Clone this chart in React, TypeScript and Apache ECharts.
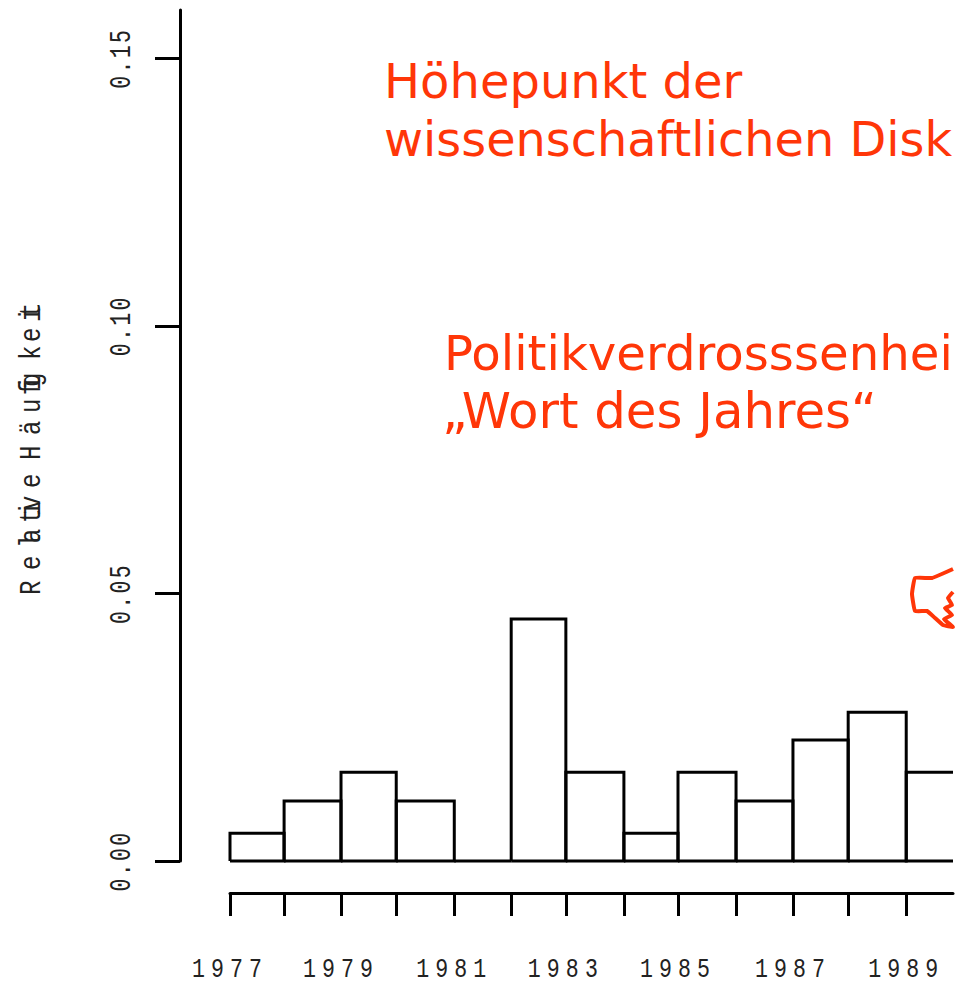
import React, { useEffect, useRef } from "react";
import * as echarts from "echarts";

const binEdges = [1977, 1977.96, 1978.97, 1979.95, 1980.98, 1981.99, 1982.96, 1983.99, 1984.95, 1985.98, 1986.99, 1987.97, 1989, 1990];
const binValues = [0.0052, 0.0112, 0.0166, 0.0112, 0, 0.0452, 0.0166, 0.0052, 0.0166, 0.0112, 0.0226, 0.0278, 0.0166];
const labelEdges = [1977, 1978.97, 1980.98, 1982.96, 1984.95, 1986.99, 1989];
const yTicks = [0, 0.05, 0.1, 0.15];
const yAxisTitle = "Relative Häufigkeit";
const noteLines = ["Höhepunkt der", "wissenschaftlichen Disk", "Politikverdrosssenhei", "„Wort des Jahres“"];
const RED = "#FF3608";
const MONO = "'Liberation Mono', monospace";
const Y_SCALE = 0.72;
const X_SCALE = 0.77;
const TITLE_SCALE = 0.8;
const STROKE = 3;

export default function App() {
  const ref = useRef<HTMLDivElement>(null);
  useEffect(() => {
    const chart = echarts.init(ref.current!, null, { renderer: "svg" });
    const data = binValues.map((v, i) => [binEdges[i], binEdges[i + 1], v]);
    const noteLayout = [
      { x: 384, y: 81, size: 48 },
      { x: 384, y: 139, size: 47.8 },
      { x: 444, y: 353, size: 48.2 },
      { x: 442, y: 411, size: 49.8 },
    ];
    const handPoints = [[953, 569], [932, 578], [915, 578], [912, 594], [915, 611], [927, 611], [935, 618], [943, 625], [953, 627], [944, 619], [952, 615], [945, 608], [952, 605], [948, 598], [953, 592]];
    const titleOffsets = [0, 25, 47, 52, 72, 79, 85, 107, 120, 135, 160, 182, 200, 205, 208, 235, 253, 273, 278];
    chart.setOption({
      animation: false,
      backgroundColor: "#fff",
      grid: { left: 230, right: 3, top: 10, bottom: 126 },
      xAxis: {
        type: "value", min: 1977, max: 1989.83, offset: 32, position: "bottom",
        splitLine: { show: false },
        axisLine: { show: true, onZero: false, lineStyle: { color: "#000", width: STROKE } },
        axisTick: { show: true, length: 23, customValues: binEdges.slice(0, 13), lineStyle: { color: "#000", width: STROKE } },
        axisLabel: { show: true, customValues: labelEdges, margin: 63, fontFamily: MONO, fontSize: 28, color: "#222", formatter: (v: number) => String(Math.round(v)) },
      },
      yAxis: {
        type: "value", min: 0, max: 0.159, offset: 50, position: "left",
        splitLine: { show: false },
        axisLine: { show: true, onZero: false, lineStyle: { color: "#000", width: STROKE } },
        axisTick: { show: true, length: 25, customValues: yTicks, lineStyle: { color: "#000", width: STROKE } },
        axisLabel: { show: true, customValues: yTicks, rotate: 90, margin: 43, fontFamily: MONO, fontSize: 30, color: "#222", formatter: (v: number) => v.toFixed(2) },
      },
      series: [{
        type: "custom",
        clip: false,
        data,
        encode: { x: [0, 1], y: 2 },
        renderItem: (params: any, api: any) => {
          const x0 = api.coord([api.value(0), 0])[0];
          const rawX1 = api.coord([api.value(1), 0])[0];
          const top = api.coord([0, api.value(2)])[1];
          const base = api.coord([0, 0])[1];
          const right = params.coordSys.x + params.coordSys.width;
          const x1 = Math.min(rawX1, right);
          const pts = rawX1 > right
            ? [[x1, base], [x0, base], [x0, top], [x1, top]]
            : [[x0, base], [x0, top], [x1, top], [x1, base], [x0, base]];
          return { type: "polyline", shape: { points: pts }, style: { fill: "none", stroke: "#000", lineWidth: STROKE } };
        },
      }],
      graphic: [
        ...noteLines.map((text, i) => ({
          type: "text", x: noteLayout[i].x, y: noteLayout[i].y,
          style: { text, fontFamily: "'DejaVu Sans'", fontSize: noteLayout[i].size, fill: RED, align: "left", verticalAlign: "middle" },
        })),
        { type: "polyline", shape: { points: handPoints, smooth: 0.1 }, style: { fill: "none", stroke: RED, lineWidth: 4 } },
        {
          type: "text", x: 32, y: 595, rotation: Math.PI / 2, scaleX: TITLE_SCALE,
          style: { text: yAxisTitle, fontFamily: MONO, fontSize: 30, fill: "#222", align: "left", verticalAlign: "middle" },
        },
      ],
    });
    const texts = ref.current!.querySelectorAll("text");
    texts.forEach((el) => {
      const t = el.textContent || "";
      const squeeze = (s: number) => {
        const tr = el.getAttribute("transform") || "";
        el.setAttribute("transform", `${tr} scale(${s},1)`);
      };
      if (/^\d{4}$/.test(t)) {
        squeeze(X_SCALE);
        el.style.letterSpacing = "7.9px";
      } else if (/^0\.\d\d$/.test(t)) {
        squeeze(Y_SCALE);
        el.style.letterSpacing = "3.2px";
      } else if (t === yAxisTitle) {
        el.setAttribute("x", titleOffsets.map((o) => (o / TITLE_SCALE).toFixed(1)).join(" "));
      }
    });
    return () => chart.dispose();
  }, []);
  return <div ref={ref} style={{ position: "absolute", left: 0, top: 0, width: 956, height: 987 }} />;
}
